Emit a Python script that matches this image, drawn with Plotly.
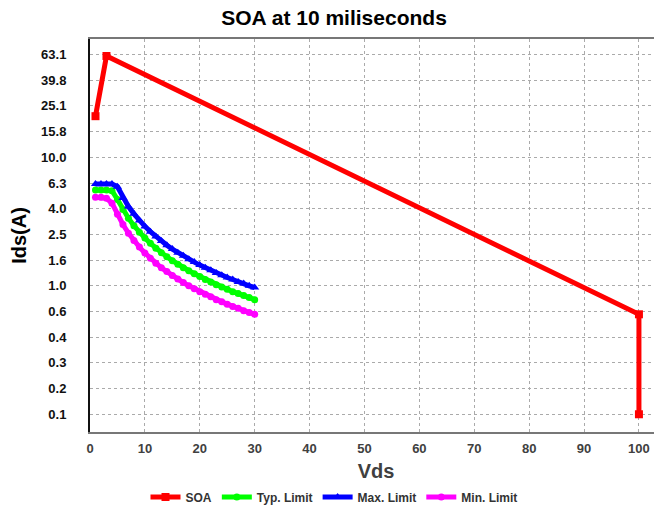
import plotly.graph_objects as go

# ---- data ----
soa_vds = [1, 3, 100, 100]
soa_ids = [20.9, 61.5, 0.6, 0.1]

lim_vds = list(range(1, 31))
typ_ids = [5.57, 5.57, 5.57, 5.5, 4.7, 3.92, 3.36, 2.94, 2.61, 2.35, 2.14, 1.96, 1.81, 1.68, 1.57,
           1.47, 1.38, 1.31, 1.24, 1.18, 1.12, 1.07, 1.02, 0.98, 0.94, 0.90, 0.87, 0.84, 0.81, 0.78]
max_ids = [6.2, 6.2, 6.2, 6.2, 5.9, 4.83, 4.14, 3.63, 3.22, 2.9, 2.64, 2.42, 2.23, 2.07, 1.93,
           1.81, 1.71, 1.61, 1.53, 1.45, 1.38, 1.32, 1.26, 1.21, 1.16, 1.12, 1.07, 1.04, 1.0, 0.97]
min_ids = [4.89, 4.89, 4.8, 4.4, 3.6, 3.0, 2.57, 2.25, 2.0, 1.8, 1.64, 1.5, 1.38, 1.29, 1.2,
           1.13, 1.06, 1.0, 0.95, 0.9, 0.86, 0.82, 0.78, 0.75, 0.72, 0.69, 0.67, 0.64, 0.62, 0.6]

y_tick_vals = [0.1, 0.158, 0.251, 0.398, 0.631, 1.0, 1.585, 2.512, 3.981, 6.31,
               10.0, 15.85, 25.12, 39.81, 63.1]
y_tick_text = ["0.1", "0.2", "0.3", "0.4", "0.6", "1.0", "1.6", "2.5", "4.0", "6.3",
               "10.0", "15.8", "25.1", "39.8", "63.1"]

FONT = "Liberation Sans, Arial, sans-serif"
W, H = 654, 503  # page has an 8px body margin

fig = go.Figure()
fig.add_trace(go.Scatter(x=soa_vds, y=soa_ids, name="SOA", mode="lines+markers",
                         line=dict(color="#ff0000", width=5),
                         marker=dict(symbol="square", size=8, color="#ff0000")))
fig.add_trace(go.Scatter(x=lim_vds, y=typ_ids, name="Typ. Limit", mode="lines+markers",
                         line=dict(color="#00ff00", width=5),
                         marker=dict(symbol="circle", size=7, color="#00ff00")))
fig.add_trace(go.Scatter(x=lim_vds, y=max_ids, name="Max. Limit", mode="lines+markers",
                         line=dict(color="#0000ff", width=5),
                         marker=dict(symbol="triangle-up", size=8, color="#0000ff")))
fig.add_trace(go.Scatter(x=lim_vds, y=min_ids, name="Min. Limit", mode="lines+markers",
                         line=dict(color="#ff00ff", width=5),
                         marker=dict(symbol="circle", size=7, color="#ff00ff")))

fig.update_layout(
    width=W, height=H,
    margin=dict(l=82, r=0, t=31, b=79, autoexpand=False),
    paper_bgcolor="white", plot_bgcolor="white",
    font=dict(family=FONT),
    title=dict(text="SOA at 10 miliseconds", x=326/W, xref="container", xanchor="center",
               y=1.0, yref="container", yanchor="top", pad=dict(t=2, b=0),
               font=dict(size=21, color="#000000", family=FONT, weight="bold")),
    legend=dict(orientation="h", xref="container", x=326/W, xanchor="center",
                yref="container", y=1-489/H, yanchor="middle",
                font=dict(size=12, color="#333333", family=FONT, weight="bold"),
                itemwidth=30, tracegroupgap=0, bgcolor="rgba(0,0,0,0)"),
    showlegend=True,
)

fig.update_xaxes(
    range=[0, 104.2], dtick=10, tick0=0, automargin=False,
    showgrid=True, gridcolor="#aaaaaa", griddash="dot", gridwidth=1,
    showline=True, linecolor="#777777", linewidth=2, mirror=True,
    zeroline=False, ticks="", ticklabelstandoff=3,
    tickfont=dict(size=13, color="#404040", family=FONT, weight="bold"),
    title=dict(text="Vds", font=dict(size=20, color="#404040", family=FONT, weight="bold"),
               standoff=9),
)
fig.update_yaxes(
    type="log", range=[-1.138, 1.921], automargin=False,
    tickvals=y_tick_vals, ticktext=y_tick_text,
    showgrid=True, gridcolor="#aaaaaa", griddash="dot", gridwidth=1,
    showline=True, linecolor="#111111", linewidth=2, mirror=False,
    zeroline=False, ticks="", ticklabelstandoff=19,
    tickfont=dict(size=13, color="#111111", family=FONT, weight="bold"),
    title=dict(text="Ids(A)", font=dict(size=20, color="#000000", family=FONT, weight="bold"),
               standoff=13),
)

fig.write_html("out.html")
